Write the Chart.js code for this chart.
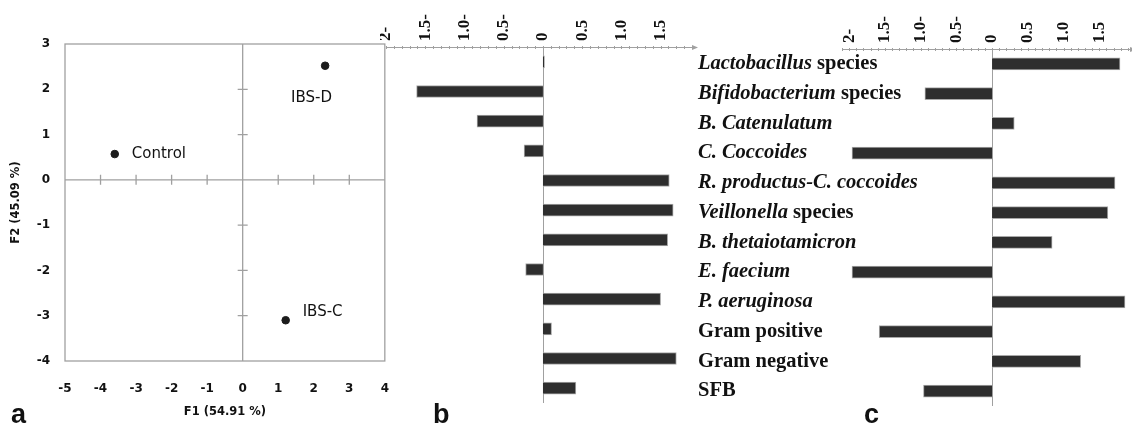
<!DOCTYPE html>
<html>
<head>
<meta charset="utf-8">
<script src="https://cdn.jsdelivr.net/npm/chart.js@4"></script>
<style>
  body { margin: 0; background: #fff; width: 1132px; height: 427px; overflow: hidden; position: relative; }
  canvas { position: absolute; top: 0; }
  .letter { position: absolute; top: 399px; line-height: 27px; font: bold 27px "Liberation Sans", Arial, sans-serif; color: #111; }
</style>
</head>
<body>
<canvas id="chartA" width="402" height="427" style="left:0"></canvas>
<canvas id="chartB" width="320" height="427" style="left:380px"></canvas>
<canvas id="chartC" width="442" height="427" style="left:690px"></canvas>
<div class="letter" style="left:11px">a</div>
<div class="letter" style="left:433px">b</div>
<div class="letter" style="left:864px">c</div>
<script>
// panel a - PCA scores
const groupNames = ["Control", "IBS-D", "IBS-C"];
const f1Scores = [-3.6, 2.32, 1.21];
const f2Scores = [0.57, 2.52, -3.1];

// panels b and c - loadings per taxon
const taxa = [
  "Lactobacillus species", "Bifidobacterium species", "B. Catenulatum", "C. Coccoides",
  "R. productus-C. coccoides", "Veillonella species", "B. thetaiotamicron", "E. faecium",
  "P. aeruginosa", "Gram positive", "Gram negative", "SFB"
];
const italicPart = [
  "Lactobacillus", "Bifidobacterium", "B. Catenulatum", "C. Coccoides",
  "R. productus-C. coccoides", "Veillonella", "B. thetaiotamicron", "E. faecium",
  "P. aeruginosa", "", "", ""
];
const loadingsB = [0.02, -1.61, -0.84, -0.24, 1.61, 1.66, 1.59, -0.22, 1.5, 0.11, 1.7, 0.42];
const loadingsC = [1.79, -0.94, 0.31, -1.96, 1.72, 1.62, 0.84, -1.96, 1.86, -1.58, 1.24, -0.96];
const barTicks = [-2, -1.5, -1, -0.5, 0, 0.5, 1, 1.5];
const barTickLabels = ["2-", "1.5-", "1.0-", "0.5-", "0", "0.5", "1.0", "1.5"];

// label offsets from each point (px)
const labelOffsets = [[17, 0], [-34, 32], [17, -8]];

const GREY = "#a0a0a0";
const INK = "#1c1c1c";

const quadrantLines = {
  id: "quadrantLines",
  beforeDatasetsDraw(chart) {
    const { ctx, chartArea: a, scales: { x, y } } = chart;
    const x0 = x.getPixelForValue(0);
    const y0 = y.getPixelForValue(0);
    ctx.save();
    ctx.strokeStyle = GREY;
    ctx.lineWidth = 1.3;
    ctx.strokeRect(a.left, a.top, a.width, a.height);
    ctx.beginPath();
    ctx.moveTo(a.left, y0); ctx.lineTo(a.right, y0);
    ctx.moveTo(x0, a.top); ctx.lineTo(x0, a.bottom);
    x.ticks.forEach(t => {
      if (t.value === 0 || t.value <= x.min || t.value >= x.max) return;
      const px = x.getPixelForValue(t.value);
      ctx.moveTo(px, y0 - 5); ctx.lineTo(px, y0 + 5);
    });
    y.ticks.forEach(t => {
      if (t.value === 0 || t.value <= y.min || t.value >= y.max) return;
      const py = y.getPixelForValue(t.value);
      ctx.moveTo(x0 - 5, py); ctx.lineTo(x0 + 5, py);
    });
    ctx.stroke();
    ctx.restore();
  }
};

const pointLabels = {
  id: "pointLabels",
  afterDatasetsDraw(chart) {
    const { ctx } = chart;
    const pts = chart.getDatasetMeta(0).data;
    ctx.save();
    ctx.fillStyle = "#111";
    ctx.font = '15px "DejaVu Sans", sans-serif';
    ctx.textBaseline = "middle";
    pts.forEach((p, i) => {
      ctx.fillText(groupNames[i], p.x + labelOffsets[i][0], p.y + labelOffsets[i][1]);
    });
    ctx.restore();
  }
};

// axis line with minor marks, arrow, zero line and rotated tick labels
const topAxis = {
  id: "topAxis",
  beforeDatasetsDraw(chart) {
    const { ctx, chartArea: a, scales: { x } } = chart;
    const y = a.top + 0.5;
    const x0 = Math.round(x.getPixelForValue(0)) + 0.5;
    ctx.save();
    ctx.strokeStyle = GREY;
    ctx.fillStyle = GREY;
    ctx.lineWidth = 1;
    ctx.beginPath();
    ctx.moveTo(a.left, y); ctx.lineTo(a.right + 2, y);
    for (let v = Math.ceil(x.min * 10); v <= Math.floor(x.max * 10); v++) {
      const px = Math.round(x.getPixelForValue(v / 10)) + 0.5;
      ctx.moveTo(px, y - 1.5); ctx.lineTo(px, y + 1.5);
    }
    ctx.moveTo(x0, a.top); ctx.lineTo(x0, a.bottom);
    ctx.stroke();
    ctx.beginPath();
    ctx.moveTo(a.right + 6, y); ctx.lineTo(a.right, y - 2.5); ctx.lineTo(a.right, y + 2.5);
    ctx.closePath();
    ctx.fill();

    ctx.fillStyle = "#111";
    ctx.font = 'bold 17px "Liberation Serif", serif';
    ctx.textAlign = "left";
    ctx.textBaseline = "middle";
    barTicks.forEach((v, i) => {
      ctx.save();
      ctx.translate(x.getPixelForValue(v), a.top - 6);
      ctx.rotate(-Math.PI / 2);
      ctx.fillText(barTickLabels[i], 0, 0);
      ctx.restore();
    });
    ctx.restore();
  }
};

const taxonLabels = {
  id: "taxonLabels",
  afterDraw(chart) {
    const { ctx, scales: { y } } = chart;
    ctx.save();
    ctx.fillStyle = "#111";
    ctx.textBaseline = "middle";
    taxa.forEach((name, i) => {
      const py = y.getPixelForValue(i);
      const it = italicPart[i];
      let px = 8;
      if (it) {
        ctx.font = 'italic bold 20.5px "Liberation Serif", serif';
        ctx.fillText(it, px, py);
        px += ctx.measureText(it).width;
      }
      const rest = name.slice(it.length);
      if (rest) {
        ctx.font = 'bold 20.5px "Liberation Serif", serif';
        ctx.fillText(rest, px, py);
      }
    });
    ctx.restore();
  }
};

new Chart(document.getElementById("chartA"), {
  type: "scatter",
  data: {
    datasets: [{
      data: f1Scores.map((v, i) => ({ x: v, y: f2Scores[i] })),
      backgroundColor: INK,
      borderColor: INK,
      pointRadius: 3.8,
    }],
  },
  options: {
    responsive: false,
    animation: false,
    layout: { padding: { top: 44, right: 10, left: 0, bottom: 0 }, autoPadding: false },
    plugins: { legend: { display: false }, tooltip: { enabled: false } },
    scales: {
      x: {
        min: -5, max: 4,
        grid: { display: false },
        border: { display: false },
        ticks: { stepSize: 1, padding: 13, color: "#111", font: { family: "DejaVu Sans", weight: "bold", size: 12 } },
        title: { display: true, text: "F1 (54.91 %)", color: "#111", padding: { top: 0, bottom: 8 },
          font: { family: "DejaVu Sans", weight: "bold", size: 11.5 } },
        afterFit(scale) { scale.height = 66; },
      },
      y: {
        min: -4, max: 3,
        grid: { display: false },
        border: { display: false },
        ticks: { stepSize: 1, padding: 7, color: "#111", font: { family: "DejaVu Sans", weight: "bold", size: 12 } },
        title: { display: true, text: "F2 (45.09 %)", color: "#111", padding: { top: 9, bottom: 0 },
          font: { family: "DejaVu Sans", weight: "bold", size: 11.5 } },
        afterFit(scale) { scale.width = 65; },
      },
    },
  },
  plugins: [quadrantLines, pointLabels],
});

function barOptions(min, max, axisHeight, padding) {
  return {
    indexAxis: "y",
    responsive: false,
    animation: false,
    layout: { padding: padding, autoPadding: false },
    plugins: { legend: { display: false }, tooltip: { enabled: false } },
    scales: {
      x: {
        position: "top",
        min: min, max: max,
        grid: { display: false },
        border: { display: false },
        afterBuildTicks(scale) { scale.ticks = barTicks.map(v => ({ value: v })); },
        ticks: { display: false },
        afterFit(scale) { scale.height = axisHeight; },
      },
      y: { display: false },
    },
  };
}

new Chart(document.getElementById("chartB"), {
  type: "bar",
  data: {
    labels: taxa,
    datasets: [{
      data: loadingsB,
      backgroundColor: "#2e2e2e",
      borderColor: "#a8a8a8",
      borderWidth: 1,
      barThickness: 12,
    }],
  },
  options: barOptions(-2, 1.9, 47, { left: 6, right: 8, top: 0, bottom: 24 }),
  plugins: [topAxis],
});

new Chart(document.getElementById("chartC"), {
  type: "bar",
  data: {
    labels: taxa,
    datasets: [{
      data: loadingsC,
      backgroundColor: "#2e2e2e",
      borderColor: "#a8a8a8",
      borderWidth: 1,
      barThickness: 12,
    }],
  },
  options: barOptions(-2.1, 1.93, 49, { left: 152, right: 2, top: 0, bottom: 21 }),
  plugins: [topAxis, taxonLabels],
});
</script>
</body>
</html>
